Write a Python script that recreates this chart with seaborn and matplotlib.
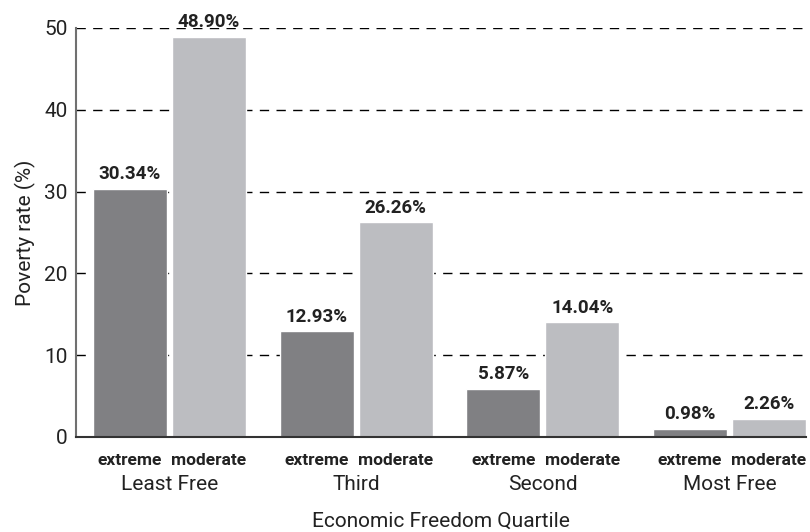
import matplotlib
matplotlib.use("Agg")
import matplotlib.pyplot as plt
import matplotlib.transforms as mtransforms
import seaborn as sns
import pandas as pd

quartiles = ["Least Free", "Third", "Second", "Most Free"]
poverty_types = ["extreme", "moderate"]
extreme_rate = [30.34, 12.93, 5.87, 0.98]
moderate_rate = [48.90, 26.26, 14.04, 2.26]
y_ticks = [0, 10, 20, 30, 40, 50]

sns.set_theme(style="white")
plt.rcParams["font.family"] = ["Roboto", "DejaVu Sans"]
COND = ["Roboto", "DejaVu Sans"]

df = pd.DataFrame({
    "quartile": quartiles * 2,
    "type": ["extreme"] * 4 + ["moderate"] * 4,
    "rate": extreme_rate + moderate_rate,
})

fig = plt.figure(figsize=(8.1, 5.32), dpi=100)
ax = fig.add_axes([76 / 810, 1 - 437 / 532, 730 / 810, 409 / 532])

sns.barplot(data=df, x="quartile", y="rate", hue="type", order=quartiles,
            hue_order=poverty_types, palette=["#808083", "#bcbdc1"],
            width=0.846, gap=0.063, saturation=1, legend=False, ax=ax, zorder=3)

ax.set_ylim(0, 50)
ax.set_xlim(-0.5, 3.41)
ax.set_yticks(y_ticks)
for y in y_ticks[1:]:
    ax.axhline(y, color="black", lw=1.0, linestyle=(0, (6.7, 5.3)), zorder=1)

# value labels
for cont in ax.containers:
    ax.bar_label(cont, fmt="%.2f%%", padding=4, fontsize=13.5, fontweight="bold",
                 family=COND, color="#222222", clip_on=False)

# sub-labels under each bar
trans = mtransforms.blended_transform_factory(ax.transData, ax.transAxes)
for cont, name in zip(ax.containers, poverty_types):
    for bar in cont:
        xc = bar.get_x() + bar.get_width() / 2
        ax.text(xc, -0.057, name, transform=trans, ha="center", va="center",
                fontsize=12.5, fontweight="bold", family=COND, color="#222222")

ax.tick_params(axis="x", length=0, pad=27, labelsize=15, colors="#222222")
ax.tick_params(axis="y", direction="in", length=3, width=1, color="#707070",
               labelsize=15, labelcolor="#222222", pad=6)
ax.set_xlabel("Economic Freedom Quartile", fontsize=15, color="#222222", labelpad=13)
ax.set_ylabel("Poverty rate (%)", fontsize=15, color="#222222", labelpad=6)

for s in ["top", "right"]:
    ax.spines[s].set_visible(False)
ax.spines["left"].set_color("#707070")
ax.spines["left"].set_linewidth(1.5)
ax.spines["bottom"].set_color("#333333")
ax.spines["bottom"].set_linewidth(1.5)
ax.spines["bottom"].set_zorder(4)

fig.savefig("out.png", dpi=100)
